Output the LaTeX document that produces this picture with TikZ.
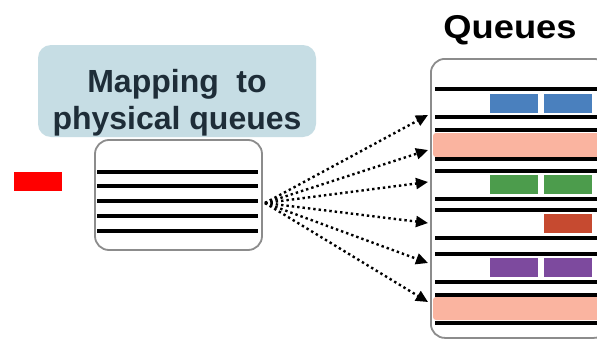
\documentclass[tikz,border=0pt]{standalone}
\usepackage{fontspec}
\setmainfont{Liberation Sans}
\usetikzlibrary{arrows.meta}
\definecolor{mapfill}{HTML}{C6DDE4}
\definecolor{maptext}{HTML}{1E2D38}
\definecolor{boxgray}{HTML}{8C8C8C}
\definecolor{qblue}{HTML}{4A80BE}
\definecolor{qpink}{HTML}{FAB4A0}
\definecolor{qgreen}{HTML}{4C9C4C}
\definecolor{qred}{HTML}{C64A30}
\definecolor{qpurple}{HTML}{7D4A9E}
\tikzset{
  mapbox/.style={fill=mapfill, rounded corners=13pt, inner sep=0pt},
  holder/.style={draw=boxgray, line width=1.8pt, rounded corners=14pt, inner sep=0pt, fill=white},
  qline/.style={line width=3.2pt, black},
  pkt/.style={draw=none, inner sep=0pt, minimum width=48pt, minimum height=19pt},
  flow/.style={line width=2.4pt, dash pattern=on 2.4pt off 3pt, -{Triangle[length=12pt,width=11pt]}},
  title/.style={font=\fontsize{32}{37}\selectfont\bfseries, align=center}
}
\begin{document}
\begin{tikzpicture}[x=1pt,y=-1pt]
\useasboundingbox (0,0) rectangle (597,340);
\fill[white] (0,0) rectangle (597,340);

% mapping label
\node[mapbox, minimum width=278pt, minimum height=92pt] (map) at (177,91) {};
\node[title, text=maptext] (maptitle) at (177,103) {Mapping\hspace{0.55em}to\\physical queues};

% red marker
\node[fill=red, inner sep=0pt, minimum width=48pt, minimum height=19pt] (marker) at (38,181.5) {};

% input queue holder
\node[holder, minimum width=167pt, minimum height=110pt] (inbox) at (178.5,195) {};
\foreach \yy in {172,186,201,216,231}
  \draw[qline] (97,\yy) -- (258,\yy);

% queues title
\node[font=\fontsize{33}{38}\selectfont\bfseries, xscale=1.1] (qtitle) at (510,30) {Queues};

% physical queues
\begin{scope}
\clip (0,0) rectangle (597,340);
\node[holder, minimum width=177pt, minimum height=279pt, anchor=north west] (qbox) at (430,58) {};
\fill[qpink, rounded corners=3pt] (433,133) rectangle (605,157);
\fill[qpink, rounded corners=3pt] (433,297) rectangle (605,320);
\foreach \yy in {89,117,130,159,171,199,210,238,254,282,295,323}
  \draw[qline] (435,\yy) -- (605,\yy);
\node[pkt, fill=qblue] (b1) at (514,103.5) {};
\node[pkt, fill=qblue] (b2) at (567.5,103.5) {};
\node[pkt, fill=qgreen] (g1) at (514,184.5) {};
\node[pkt, fill=qgreen] (g2) at (567.5,184.5) {};
\node[pkt, fill=qred] (r1) at (567.5,223.5) {};
\node[pkt, fill=qpurple] (p1) at (514,267.5) {};
\node[pkt, fill=qpurple] (p2) at (567.5,267.5) {};
\end{scope}

% fan-out of flows
\coordinate (src) at (265,203);
\foreach \yy [count=\i] in {115,150,182,223,263,302}
  \coordinate (t\i) at (428,\yy);
\foreach \i in {1,...,6}
  \draw[flow] (src) -- (t\i);
\end{tikzpicture}
\end{document}
